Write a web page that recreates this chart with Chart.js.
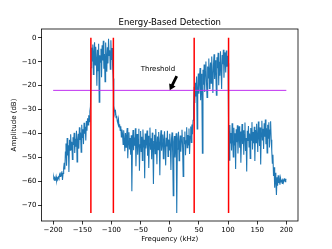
<!DOCTYPE html>
<html>
<head>
<meta charset="utf-8">
<script src="https://cdn.jsdelivr.net/npm/chart.js@4.4.1/dist/chart.umd.min.js"></script>
<style>
  html, body { margin: 0; padding: 0; background: #fff; }
  canvas { display: block; }
</style>
</head>
<body>
<canvas id="chart" width="332" height="249"></canvas>
<script>
var freqStart = -200;
var freqStep = 1;
var amplitude = [
  -59.1, -58.4, -59.6, -58.8, -59.3, -58.1, -59.8, -58.6, -59.0, -58.3,
  -58.9, -57.2, -58.0, -56.4, -57.7, -55.9, -59.5, -56.8, -54.6, -52.3,
  -55.1, -47.8, -44.2, -53.6, -41.9, -49.3, -45.0, -56.2, -42.7, -47.1,
  -40.4, -46.8, -43.5, -50.9, -41.6, -44.9, -39.8, -48.2, -42.3, -45.6,
  -38.9, -52.0, -43.1, -40.2, -46.4, -37.5, -42.8, -39.6, -47.9, -36.4,
  -41.7, -38.3, -44.5, -35.6, -40.1, -37.2, -43.0, -34.8, -38.9, -33.7,
  -36.5, -32.4, -35.1, -30.8, -28.8, -12.5, -4.1, -9.7, -2.8, -15.3,
  -6.2, -1.9, -11.4, -3.7, -8.9, -20.1, -5.0, -13.8, -2.5, -27.0,
  -7.3, -10.2, -4.6, -16.5, -3.1, -9.5, -1.2, -12.9, -6.8, -18.4,
  -2.0, -8.0, -14.2, -3.9, -10.7, -0.4, -7.4, -5.2, -13.1, -1.0,
  -9.3, -4.3, -11.8, -17.0, -28.5, -30.2, -31.8, -30.9, -33.4, -32.6,
  -34.9, -35.8, -34.1, -37.3, -36.2, -38.8, -37.0, -41.5, -38.4, -40.2,
  -44.6, -38.7, -42.9, -47.5, -39.9, -45.8, -41.1, -37.8, -50.4, -43.2,
  -39.5, -46.7, -42.0, -48.9, -40.8, -64.2, -44.3, -38.6, -47.1, -41.7,
  -45.2, -37.9, -53.8, -43.6, -40.3, -49.0, -42.5, -38.1, -55.7, -44.8,
  -39.0, -47.6, -41.4, -51.3, -38.4, -45.9, -42.7, -58.8, -40.1, -46.3,
  -43.7, -38.8, -49.4, -41.0, -54.5, -44.2, -37.6, -46.9, -42.1, -50.8,
  -39.7, -45.0, -61.2, -43.4, -40.6, -48.5, -38.2, -44.6, -52.9, -41.3,
  -46.8, -39.4, -43.9, -57.5, -42.0, -38.7, -47.3, -44.1, -40.5, -50.6,
  -43.0, -39.1, -46.2, -53.4, -41.8, -45.5, -38.9, -49.7, -42.6, -47.0,
  -40.2, -44.8, -55.3, -42.4, -39.6, -48.0, -66.1, -43.5, -41.1, -50.1,
  -45.3, -40.0, -73.4, -46.6, -42.2, -39.3, -51.5, -44.0, -40.9, -47.7,
  -42.8, -38.5, -45.4, -58.0, -41.5, -44.3, -39.2, -49.2, -43.1, -37.4,
  -46.0, -40.7, -44.9, -38.0, -48.6, -41.2, -37.1, -43.8, -36.3, -40.4,
  -34.5, -29.0, -20.5, -27.3, -18.8, -24.6, -16.2, -38.2, -21.7, -14.9,
  -23.4, -17.5, -12.6, -26.1, -15.0, -20.3, -48.3, -13.4, -19.6, -11.2,
  -22.7, -14.1, -9.9, -18.5, -25.0, -12.0, -16.8, -8.7, -21.2, -13.6,
  -10.3, -19.0, -7.8, -15.4, -23.1, -11.5, -6.9, -17.2, -9.4, -14.0,
  -24.0, -8.1, -12.7, -6.3, -19.8, -10.0, -15.9, -5.6, -13.0, -21.4,
  -7.2, -11.0, -5.0, -16.7, -9.0, -6.1, -14.5, -5.3, -12.1, -7.5,
  -10.6, -38.0, -51.2, -36.5, -44.0, -39.8, -47.2, -35.8, -42.5, -49.9,
  -37.7, -45.1, -40.0, -54.9, -38.3, -43.7, -36.6, -48.4, -41.5, -37.0,
  -46.0, -39.2, -52.3, -42.8, -36.1, -44.5, -38.7, -49.0, -40.6, -35.5,
  -47.4, -41.9, -56.0, -38.9, -43.2, -36.9, -45.7, -40.1, -50.5, -37.8,
  -42.9, -35.3, -46.8, -39.4, -44.1, -37.2, -51.6, -38.6, -43.9, -36.0,
  -41.2, -47.8, -35.0, -40.7, -45.3, -37.5, -53.0, -39.9, -34.7, -43.0,
  -38.1, -46.5, -35.8, -41.4, -34.2, -44.6, -37.9, -48.2, -36.4, -42.0,
  -35.4, -45.9, -38.6, -34.9, -42.7, -47.3, -52.5, -49.0, -57.8, -54.2,
  -62.8, -56.5, -60.1, -65.8, -58.4, -61.9, -57.6, -60.8, -59.0, -61.5,
  -58.7, -60.3, -59.4, -61.0, -58.9, -60.5, -59.6, -58.8, -60.2, -59.3,
  -59.1
];

// detected band edges (kHz) and the detection threshold (dB)
var bandEdges = [-135.3, -96.7, 41.9, 100.9];
var edgeTop = 0;
var edgeBottom = -73.3;
var threshold = -22;
var thresholdSpan = [-200, 200];

// annotation: text position and arrow tail/tip, in data units
var noteText = 'Threshold';
var notePos = [-20.3, -13.3];
var arrowTail = [12, -16];
var arrowTip = [0, -22];

var xTicks = [-200, -150, -100, -50, 0, 50, 100, 150, 200];
var yTicks = [-70, -60, -50, -40, -30, -20, -10, 0];

var titleText = 'Energy-Based Detection';
var font = 'DejaVu Sans';

var spectrum = amplitude.map(function (v, i) {
  return { x: freqStart + i * freqStep, y: v };
});

var datasets = [{
  data: spectrum,
  borderColor: '#1f77b4',
  borderWidth: 1.1,
  pointRadius: 0,
  tension: 0,
  order: 3
}];

bandEdges.forEach(function (f) {
  datasets.push({
    data: [{ x: f, y: edgeTop }, { x: f, y: edgeBottom }],
    borderColor: '#ff0000',
    borderWidth: 1.5,
    pointRadius: 0,
    order: 1
  });
});

datasets.push({
  data: thresholdSpan.map(function (f) { return { x: f, y: threshold }; }),
  borderColor: '#c030f0',
  borderWidth: 1,
  pointRadius: 0,
  order: 2
});

function minus(v) {
  return String(v).replace('-', '\u2212');
}

// axes frame on all four sides + title centred over the plot area
var frame = {
  id: 'frame',
  afterDraw: function (chart) {
    var a = chart.chartArea;
    var c = chart.ctx;
    c.save();
    c.strokeStyle = '#000';
    c.lineWidth = 0.8;
    c.strokeRect(a.left, a.top, a.right - a.left, a.bottom - a.top);
    c.fillStyle = '#000';
    c.font = '8.5px "' + font + '"';
    c.textAlign = 'center';
    c.textBaseline = 'middle';
    c.fillText(titleText, (a.left + a.right) / 2, 22.5);
    c.restore();
  }
};

var note = {
  id: 'note',
  afterDatasetsDraw: function (chart) {
    var xs = chart.scales.x, ys = chart.scales.y;
    var c = chart.ctx;
    c.save();
    c.fillStyle = '#000';
    c.font = '7px "' + font + '"';
    c.textAlign = 'center';
    c.textBaseline = 'middle';
    c.fillText(noteText, xs.getPixelForValue(notePos[0]), ys.getPixelForValue(notePos[1]));

    var tx = xs.getPixelForValue(arrowTail[0]), ty = ys.getPixelForValue(arrowTail[1]);
    var hx = xs.getPixelForValue(arrowTip[0]), hy = ys.getPixelForValue(arrowTip[1]);
    var dx = hx - tx, dy = hy - ty;
    var len = Math.sqrt(dx * dx + dy * dy);
    var ux = dx / len, uy = dy / len;
    var px = -uy, py = ux;
    var shaft = 1.4, head = 3.6, headLen = 6;
    var bx = hx - ux * headLen, by = hy - uy * headLen;
    c.beginPath();
    c.moveTo(tx + px * shaft, ty + py * shaft);
    c.lineTo(bx + px * shaft, by + py * shaft);
    c.lineTo(bx + px * head, by + py * head);
    c.lineTo(hx, hy);
    c.lineTo(bx - px * head, by - py * head);
    c.lineTo(bx - px * shaft, by - py * shaft);
    c.lineTo(tx - px * shaft, ty - py * shaft);
    c.closePath();
    c.fill();
    c.restore();
  }
};

new Chart(document.getElementById('chart').getContext('2d'), {
  type: 'line',
  data: { datasets: datasets },
  options: {
    responsive: false,
    animation: false,
    devicePixelRatio: 1,
    layout: { padding: { left: 0, right: 34, top: 29, bottom: 0 } },
    plugins: {
      legend: { display: false },
      tooltip: { enabled: false },
      title: { display: false }
    },
    scales: {
      x: {
        type: 'linear',
        min: -220,
        max: 220,
        afterBuildTicks: function (s) { s.ticks = xTicks.map(function (v) { return { value: v }; }); },
        afterFit: function (s) { s.height = 28; },
        ticks: {
          color: '#000',
          font: { family: font, size: 7 },
          padding: 1.5,
          maxRotation: 0,
          callback: function (v) { return minus(v); }
        },
        grid: { drawOnChartArea: false, tickLength: 3.5, color: '#000', lineWidth: 0.8 },
        border: { display: false },
        title: {
          display: true,
          text: 'Frequency (kHz)',
          color: '#000',
          font: { family: font, size: 7 },
          padding: 5.5
        }
      },
      y: {
        type: 'linear',
        min: -76.7,
        max: 3.7,
        afterBuildTicks: function (s) { s.ticks = yTicks.map(function (v) { return { value: v }; }); },
        afterFit: function (s) { s.width = 41.5; },
        ticks: {
          color: '#000',
          font: { family: font, size: 7 },
          padding: 1.5,
          callback: function (v) { return minus(v); }
        },
        grid: { drawOnChartArea: false, tickLength: 3.5, color: '#000', lineWidth: 0.8 },
        border: { display: false },
        title: {
          display: true,
          text: 'Amplitude (dB)',
          color: '#000',
          font: { family: font, size: 7 },
          padding: 9.5
        }
      }
    }
  },
  plugins: [frame, note]
});
</script>
</body>
</html>
